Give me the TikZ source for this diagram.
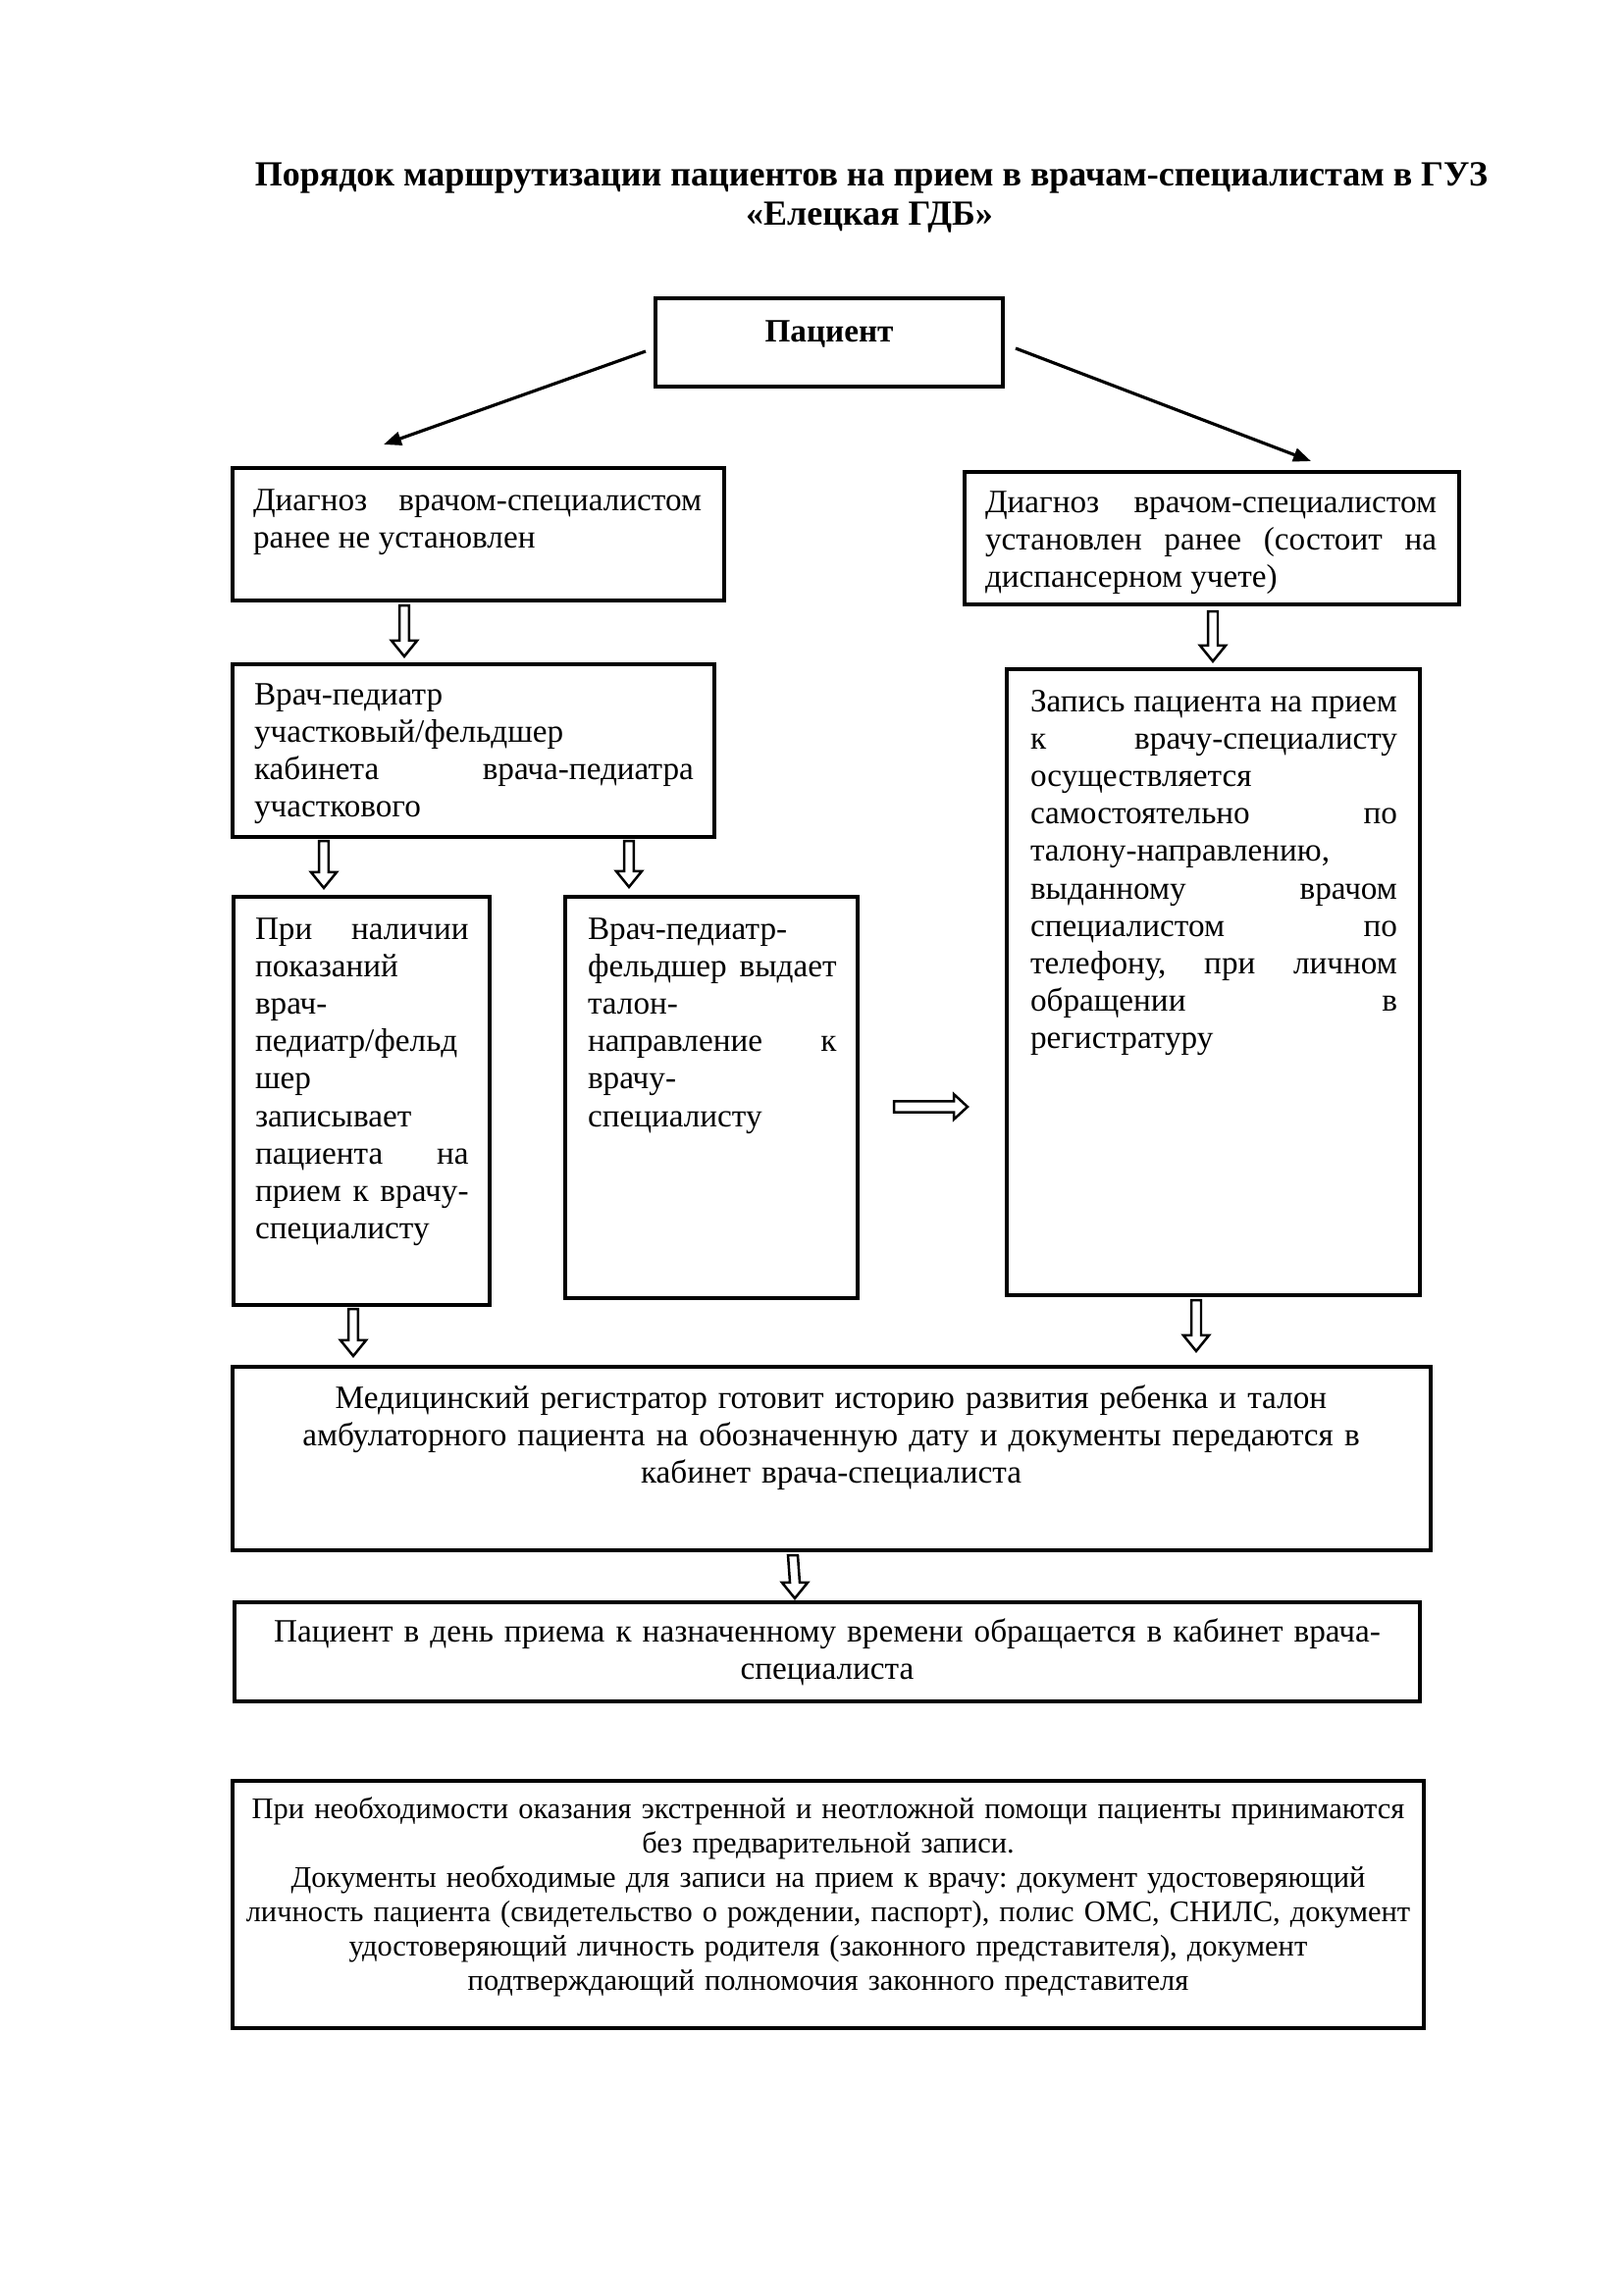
\documentclass[tikz,border=0pt]{standalone}
\usepackage{fontspec}
\setmainfont{Liberation Serif}
\usetikzlibrary{fit,calc,arrows.meta}
\hyphenpenalty=10000
\exhyphenpenalty=10000
\tolerance=10000
\hbadness=10000
\frenchspacing
\tikzset{
  box/.style={draw, line width=1.15pt, inner sep=0pt, outer sep=0pt},
  bodytxt/.style={font=\fontsize{12}{13.8}\selectfont, inner sep=0pt, outer sep=0pt, align=justify, anchor=base west},
  ctxt/.style={font=\fontsize{12}{13.8}\selectfont, inner sep=0pt, outer sep=0pt, align=center, anchor=base},
  notetxt/.style={font=\fontsize{11}{12.65}\selectfont, inner sep=0pt, outer sep=0pt, align=center, anchor=base},
  ttl/.style={font=\bfseries\fontsize{13}{15}\selectfont, inner sep=0pt, outer sep=0pt, anchor=base},
  boxttl/.style={font=\bfseries\fontsize{12}{13.8}\selectfont, inner sep=0pt, outer sep=0pt, anchor=base},
  hollow/.style={draw, fill=white, line width=0.9pt, line join=miter},
  thinarrow/.style={line width=1.15pt, -{Triangle[length=6.5pt,width=5pt]}},
}
\newcommand\hollowdown[2]{%
  \draw[hollow] ([xshift=-1.8pt]#1) -- ([xshift=-1.8pt,yshift=5.8pt]#2) -- ([xshift=-4.7pt,yshift=5.8pt]#2) -- (#2)
    -- ([xshift=4.7pt,yshift=5.8pt]#2) -- ([xshift=1.8pt,yshift=5.8pt]#2) -- ([xshift=1.8pt]#1) -- cycle;}
\newcommand\hollowright[2]{%
  \draw[hollow] ([yshift=2pt]#1) -- ([xshift=-5pt,yshift=2pt]#2) -- ([xshift=-5pt,yshift=4.6pt]#2) -- (#2)
    -- ([xshift=-5pt,yshift=-4.6pt]#2) -- ([xshift=-5pt,yshift=-2pt]#2) -- ([yshift=-2pt]#1) -- cycle;}
\begin{document}
\begin{tikzpicture}[x=0.12697mm, y=-0.12697mm]
\useasboundingbox (0,0) rectangle (1654,2339);

% title
\node[ttl] (t1) at (888,190) {Порядок маршрутизации пациентов на прием в врачам-специалистам в ГУЗ};
\node[ttl] (t2) at (886,229) {«Елецкая ГДБ»};

% boxes
\node[box, fit={(668,304) (1022,394)}] (pac) {};
\node[boxttl] (pact) at (845,348) {Пациент};

\node[box, fit={(237,477) (738,612)}] (d1) {};
\node[bodytxt, text width=165.1pt] (d1t) at (258,520)
  {Диагноз врачом-специалистом\linebreak ранее не установлен};

\node[box, fit={(983,481) (1487,616)}] (d2) {};
\node[bodytxt, text width=166.2pt] (d2t) at (1004,522)
  {Диагноз врачом-специалистом\linebreak установлен ранее (состоит на\linebreak диспансерном учете)};

\node[box, fit={(237,677) (728,853)}] (p2) {};
\node[bodytxt, text width=161.8pt] (p2t) at (259,718)
  {Врач-педиатр\linebreak участковый/фельдшер\linebreak кабинета врача-педиатра\linebreak участкового};

\node[box, fit={(238,914) (499,1330)}] (p3a) {};
\node[bodytxt, text width=78.6pt] (p3at) at (260,957)
  {При наличии\linebreak показаний\linebreak врач-\linebreak педиатр/фельд\linebreak шер\linebreak записывает\linebreak пациента на\linebreak прием к врачу-\linebreak специалисту};

\node[box, fit={(576,914) (874,1323)}] (p3b) {};
\node[bodytxt, text width=91.6pt] (p3bt) at (599,957)
  {Врач-педиатр-\linebreak фельдшер выдает\linebreak талон-\linebreak направление к\linebreak врачу-\linebreak специалисту};

\node[box, fit={(1026,682) (1447,1320)}] (rz) {};
\node[bodytxt, text width=135.1pt] (rzt) at (1050,725)
  {Запись пациента на прием\linebreak к врачу-специалисту\linebreak осуществляется\linebreak самостоятельно по\linebreak талону-направлению,\linebreak выданному врачом\linebreak специалистом по\linebreak телефону, при личном\linebreak обращении в\linebreak регистратуру};

\node[box, fit={(237,1393) (1458,1580)}] (reg) {};
\node[ctxt, text width=469.7pt] (regt) at (847,1435)
  {Медицинский регистратор готовит историю развития ребенка и талон\\ амбулаторного пациента на обозначенную дату и документы передаются в\\ кабинет врача-специалиста};

\node[box, fit={(239,1633) (1447,1734)}] (pd) {};
\node[ctxt, text width=469.7pt] (pdt) at (843,1673)
  {Пациент в день приема к назначенному времени обращается в кабинет врача-\\ специалиста};

\node[box, fit={(237,1815) (1451,2067)}] (note) {};
\node[notetxt, text width=435pt] (notet) at (844,1853)
  {При необходимости оказания экстренной и неотложной помощи пациенты принимаются\\ без предварительной записи.\\ Документы необходимые для записи на прием к врачу: документ удостоверяющий\\ личность пациента (свидетельство о рождении, паспорт), полис ОМС, СНИЛС, документ\\ удостоверяющий личность родителя (законного представителя), документ\\ подтверждающий полномочия законного представителя};

% diagonal arrows
\draw[thinarrow] ($(pac.west)+(-10,9)$) -- ($(d1.north west)+(154,-24)$);
\draw[thinarrow] ($(pac.east)+(13,6)$) -- ($(d2.north)+(101,-11)$);

% hollow arrow anchor points
\coordinate (a1s) at ($(d1.south west)+(175,5)$);
\coordinate (a1e) at ($(p2.north west)+(175,-8)$);
\coordinate (a2s) at ($(d2.south west)+(253,7)$);
\coordinate (a2e) at ($(rz.north west)+(210,-8)$);
\coordinate (a3s) at ($(p2.south west)+(93,4)$);
\coordinate (a3e) at ($(p3a.north west)+(92,-9)$);
\coordinate (a4s) at ($(p2.south west)+(404,4)$);
\coordinate (a4e) at ($(p3b.north west)+(65,-10)$);
\coordinate (a5s) at ($(p3a.south west)+(122,4)$);
\coordinate (a5e) at ($(reg.north west)+(123,-11)$);
\coordinate (a6s) at ($(rz.south west)+(193,5)$);
\coordinate (a6e) at ($(reg.north west)+(982,-16)$);
\coordinate (a7s) at ($(reg.south west)+(571,5)$);
\coordinate (a7e) at ($(pd.north west)+(571,-4)$);
\coordinate (hs) at ($(p3b.north east)+(37,214)$);
\coordinate (he) at ($(rz.north west)+(-40,446)$);

\hollowdown{a1s}{a1e}
\hollowdown{a2s}{a2e}
\hollowdown{a3s}{a3e}
\hollowdown{a4s}{a4e}
\hollowdown{a5s}{a5e}
\hollowdown{a6s}{a6e}
\hollowdown{a7s}{a7e}
\hollowright{hs}{he}
\end{tikzpicture}
\end{document}
